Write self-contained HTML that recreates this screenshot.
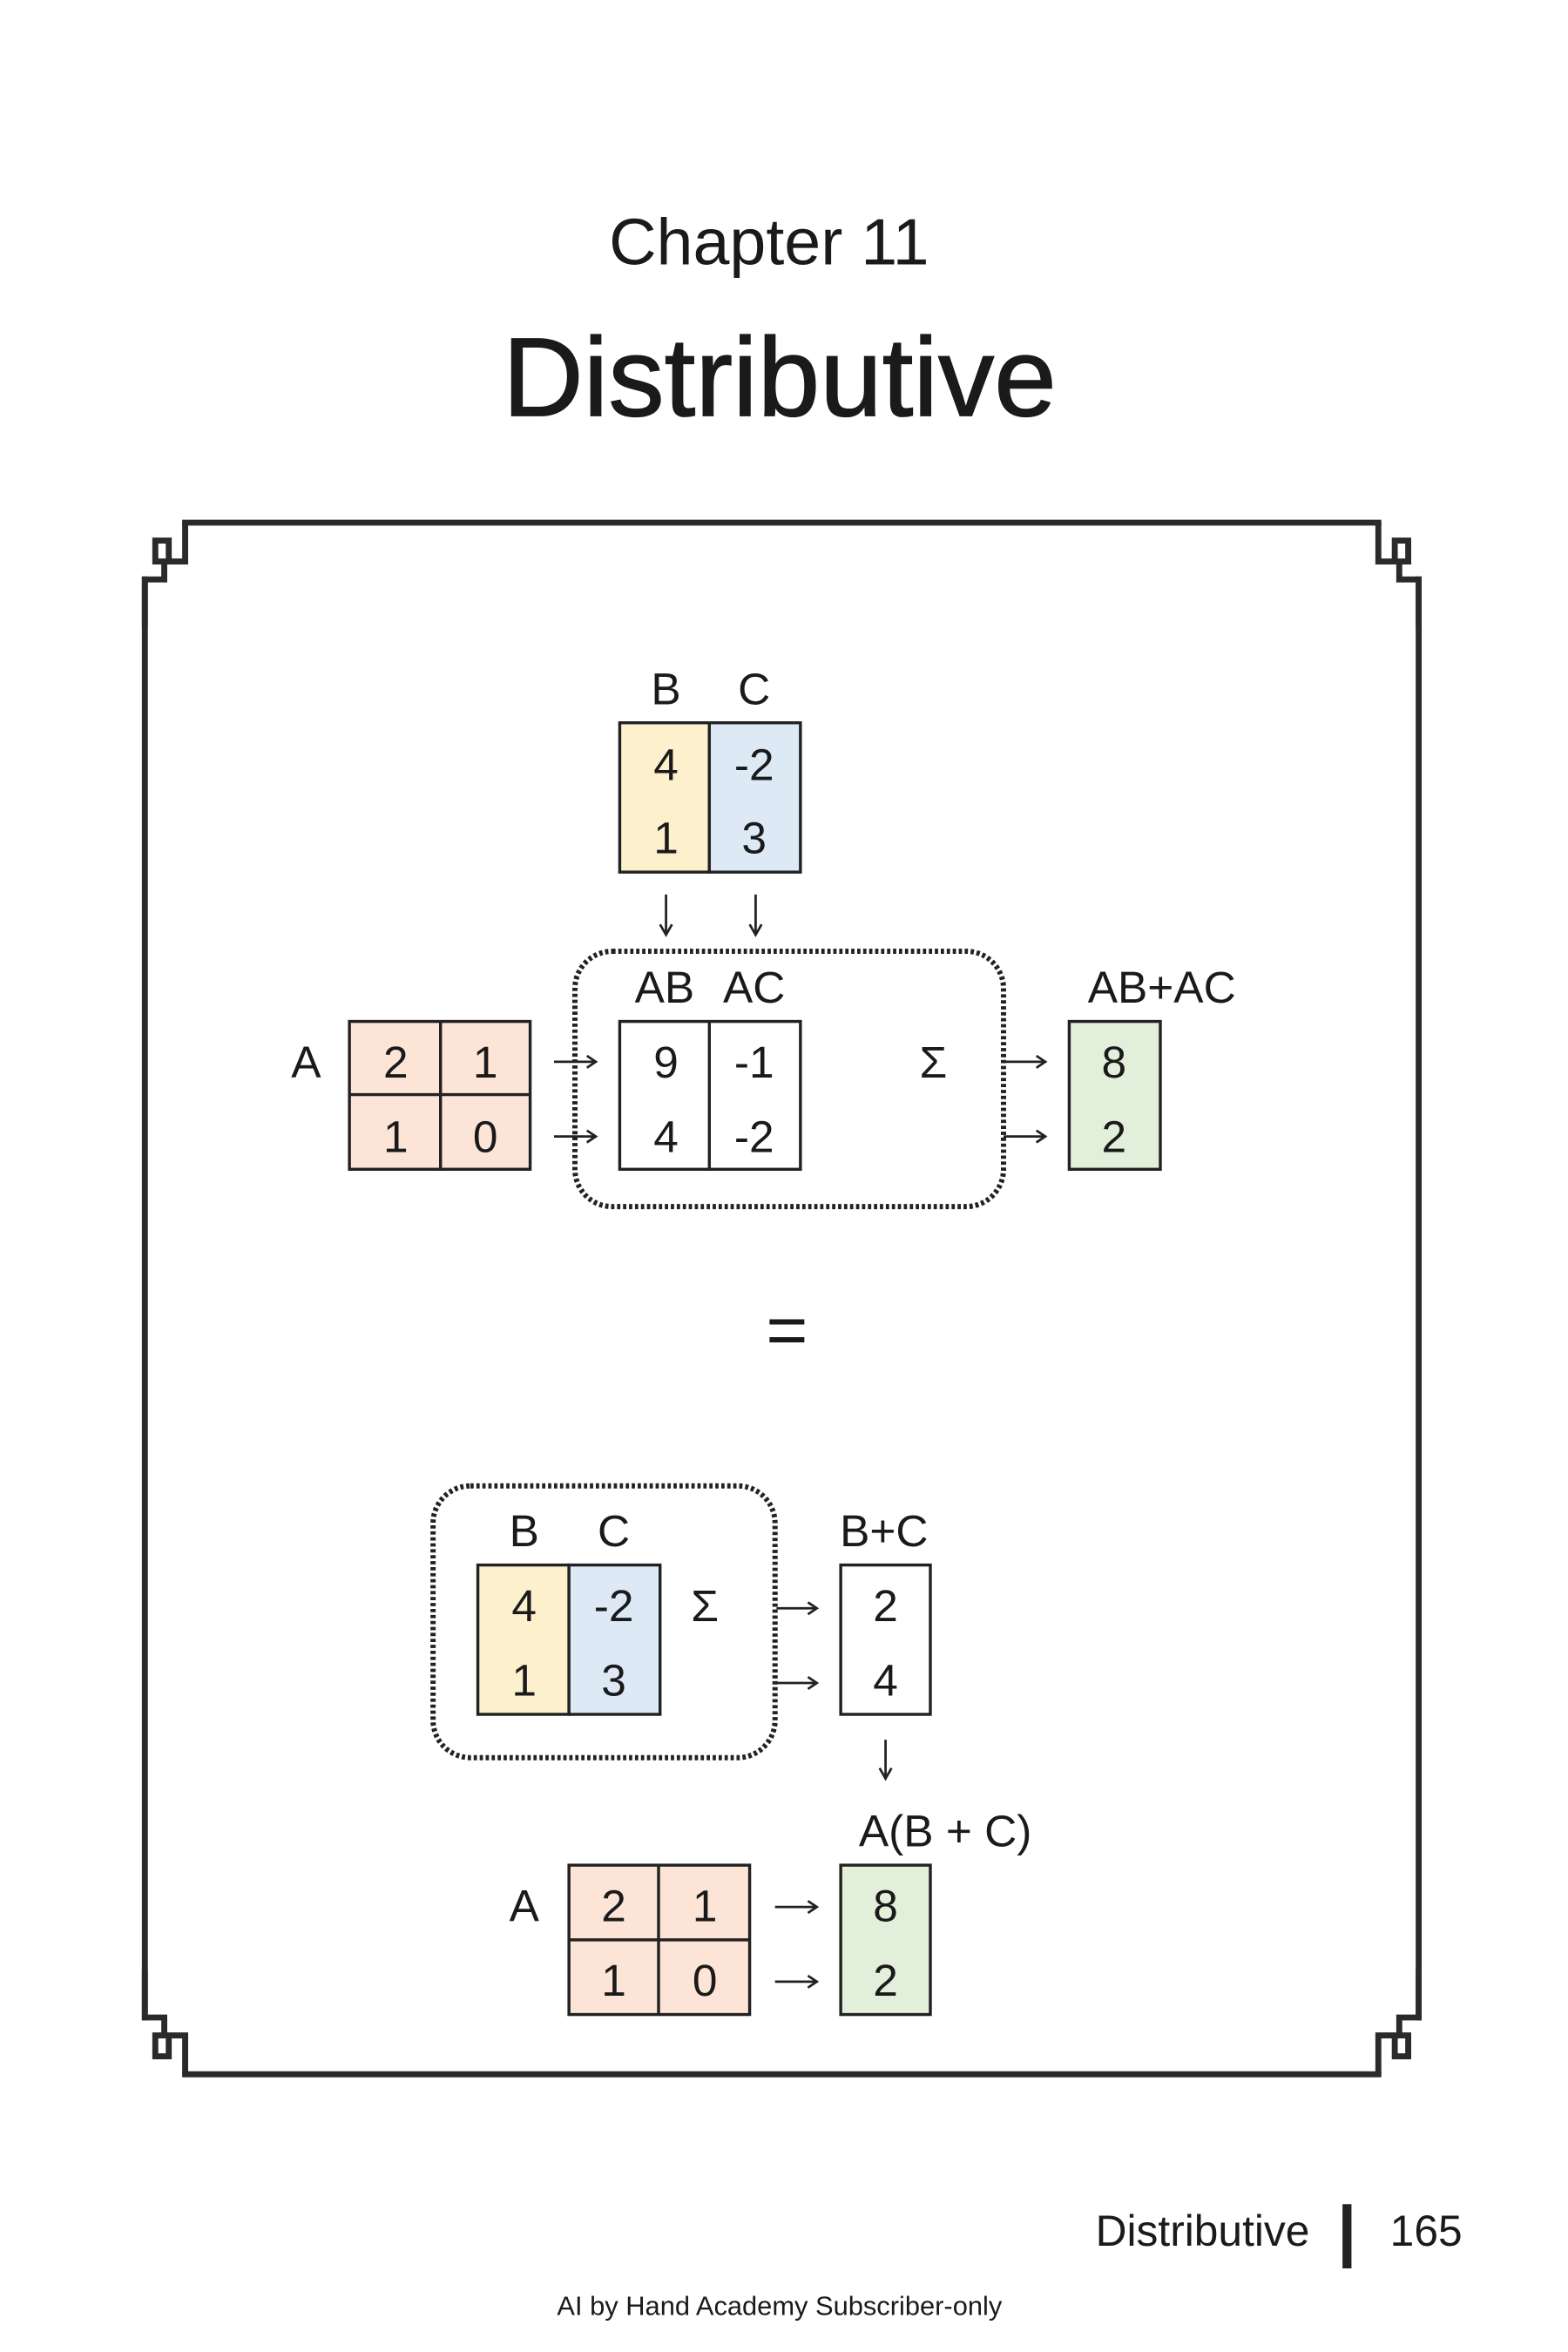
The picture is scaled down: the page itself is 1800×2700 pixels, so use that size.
<!DOCTYPE html>
<html><head><meta charset="utf-8"><style>
html,body{margin:0;padding:0;background:#fff}
svg{display:block}
text{font-family:"Liberation Sans",sans-serif;fill:#1a1a1a}
</style></head><body>
<svg width="1800" height="2700" viewBox="0 0 1050 1575" xmlns="http://www.w3.org/2000/svg">
<defs>
<g id="corner" fill="none" stroke="#2a2a2a" stroke-width="4">
<path d="M124 350 V376 H104 V362 H113 V376 M110 376 V388 H97 V420"/>
</g>
</defs>
<text x="515" y="162" font-size="44" text-anchor="middle" dominant-baseline="central">Chapter 11</text>
<text x="522" y="253" font-size="75" text-anchor="middle" dominant-baseline="central" stroke="#1a1a1a" stroke-width="0.8">Distributive</text>

<g fill="none" stroke="#2a2a2a" stroke-width="4">
<line x1="122" y1="350" x2="925" y2="350"/>
<line x1="122" y1="1389" x2="925" y2="1389"/>
<line x1="97" y1="386" x2="97" y2="1353"/>
<line x1="950" y1="386" x2="950" y2="1353"/>
</g>
<use href="#corner"/>
<use href="#corner" transform="translate(1047,0) scale(-1,1)"/>
<use href="#corner" transform="translate(0,1739) scale(1,-1)"/>
<use href="#corner" transform="translate(1047,1739) scale(-1,-1)"/>

<g stroke="#222" stroke-width="2">
<rect x="415" y="484" width="60" height="100" fill="#fdf0cd"/>
<rect x="475" y="484" width="61" height="100" fill="#dde9f5"/>
<rect x="234" y="684" width="121" height="99" fill="#fce4d6"/>
<line x1="295" y1="684" x2="295" y2="783"/>
<line x1="234" y1="733" x2="355" y2="733"/>
<rect x="415" y="684" width="121" height="99" fill="#fff"/>
<line x1="475" y1="684" x2="475" y2="783"/>
<rect x="716" y="684" width="61" height="99" fill="#e2efda"/>
<rect x="320" y="1048" width="61" height="100" fill="#fdf0cd"/>
<rect x="381" y="1048" width="61" height="100" fill="#dde9f5"/>
<rect x="563" y="1048" width="60" height="100" fill="#fff"/>
<rect x="381" y="1249" width="121" height="100" fill="#fce4d6"/>
<line x1="441" y1="1249" x2="441" y2="1349"/>
<line x1="381" y1="1299" x2="502" y2="1299"/>
<rect x="563" y="1249" width="60" height="100" fill="#e2efda"/>
</g>
<g fill="none" stroke="#222" stroke-width="3.5" stroke-dasharray="2.2 1.8">
<rect x="385" y="637" width="287" height="171" rx="25"/>
<rect x="290" y="995" width="229" height="182" rx="25"/>
</g>

<g fill="none" stroke="#222" stroke-width="1.6">
<path d="M371 711 H398 M393 707 L399 711 L393 715"/>
<path d="M371 761 H398 M393 757 L399 761 L393 765"/>
<path d="M672 711 H699 M694 707 L700 711 L694 715"/>
<path d="M672 761 H699 M694 757 L700 761 L694 765"/>
<path d="M520 1077 H546 M541 1073 L547 1077 L541 1081"/>
<path d="M520 1127 H546 M541 1123 L547 1127 L541 1131"/>
<path d="M519 1277 H546 M541 1273 L547 1277 L541 1281"/>
<path d="M519 1327 H546 M541 1323 L547 1327 L541 1331"/>
<path d="M446 599 V625 M442 619 L446 626 L450 619"/>
<path d="M506 599 V625 M502 619 L506 626 L510 619"/>
<path d="M593 1165 V1190 M589 1184 L593 1191 L597 1184"/>
</g>

<g font-size="30" text-anchor="middle" dominant-baseline="central">
<text x="446" y="461">B</text><text x="505" y="461">C</text>
<text x="446" y="512">4</text><text x="446" y="561">1</text>
<text x="505" y="512">-2</text><text x="505" y="561">3</text>
<text x="445" y="661">AB</text><text x="505" y="661">AC</text>
<text x="778" y="661">AB+AC</text>
<text x="205" y="711">A</text>
<text x="265" y="711">2</text><text x="325" y="711">1</text>
<text x="265" y="761">1</text><text x="325" y="761">0</text>
<text x="446" y="711">9</text><text x="505" y="711">-1</text>
<text x="446" y="761">4</text><text x="505" y="761">-2</text>
<text x="625" y="711">Σ</text>
<text x="746" y="711">8</text><text x="746" y="761">2</text>
<text x="527" y="891" font-size="48">=</text>
<text x="351" y="1025">B</text><text x="411" y="1025">C</text>
<text x="592" y="1025">B+C</text>
<text x="351" y="1075">4</text><text x="351" y="1125">1</text>
<text x="411" y="1075">-2</text><text x="411" y="1125">3</text>
<text x="472" y="1075">Σ</text>
<text x="593" y="1075">2</text><text x="593" y="1125">4</text>
<text x="633" y="1226">A(B + C)</text>
<text x="351" y="1276">A</text>
<text x="411" y="1276">2</text><text x="472" y="1276">1</text>
<text x="411" y="1326">1</text><text x="472" y="1326">0</text>
<text x="593" y="1276">8</text><text x="593" y="1326">2</text>
</g>

<text x="877" y="1494" font-size="29" text-anchor="end" dominant-baseline="central">Distributive</text>
<rect x="899" y="1476" width="6" height="43" fill="#222"/>
<text x="955" y="1494" font-size="29" text-anchor="middle" dominant-baseline="central">165</text>
<text x="522" y="1544" font-size="18" text-anchor="middle" dominant-baseline="central">AI by Hand Academy Subscriber-only</text>
</svg>
</body></html>
